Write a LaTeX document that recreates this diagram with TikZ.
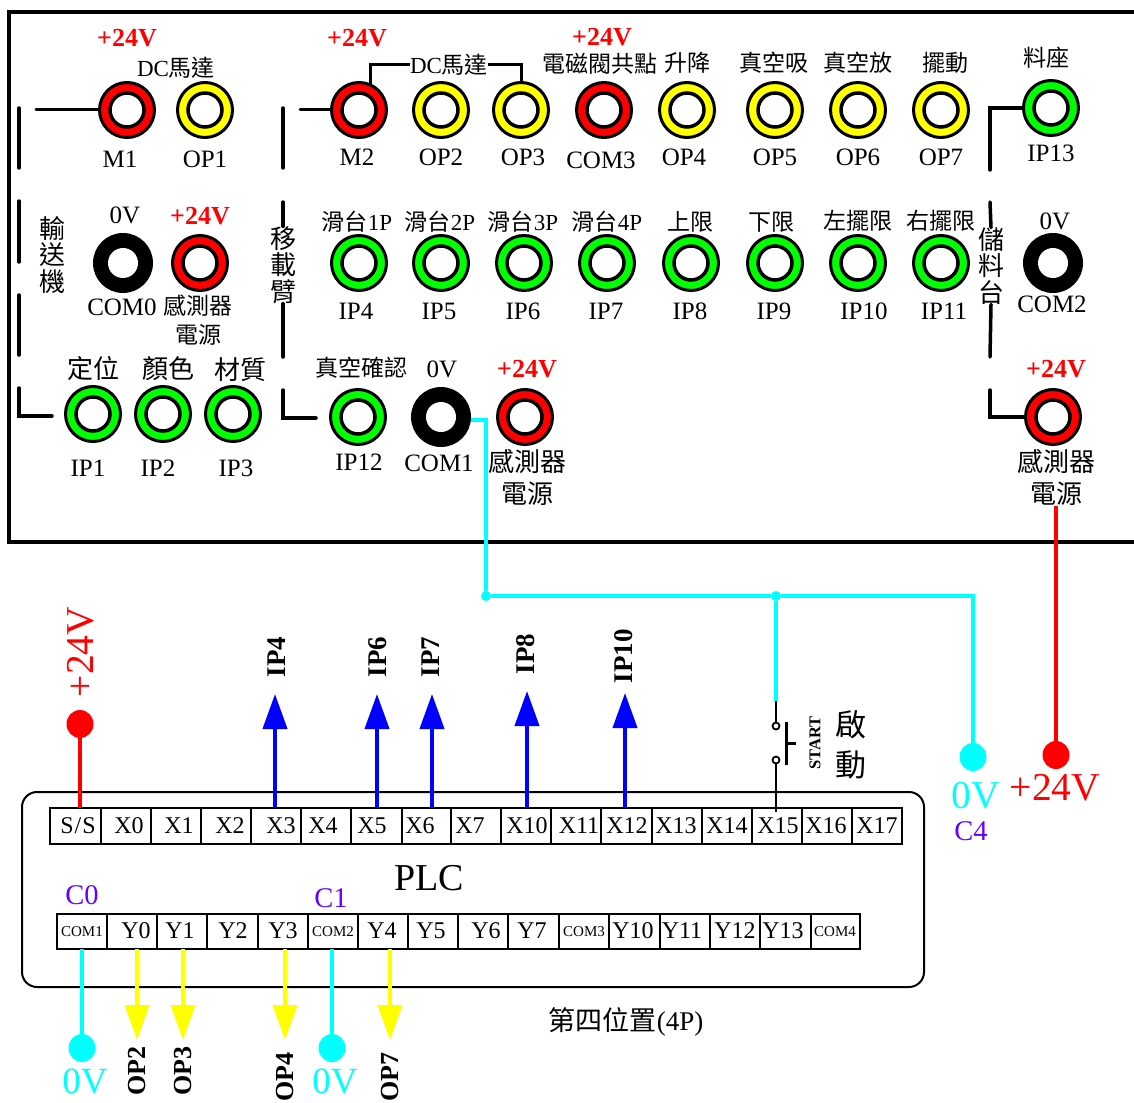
\documentclass[tikz,border=0pt]{standalone}
\usepackage{fontspec}
\setmainfont{Liberation Serif}
\newfontfamily\cjkfont{Noto Sans CJK TC}
\newcommand{\cj}[1]{{\cjkfont #1}}
\usetikzlibrary{shapes.geometric,arrows.meta}
\definecolor{pur}{RGB}{102,0,255}
\definecolor{cyn}{RGB}{0,255,255}
\definecolor{yel}{RGB}{255,255,0}
\definecolor{grn}{RGB}{0,255,0}
\definecolor{rd}{RGB}{255,0,0}
\definecolor{blu}{RGB}{0,0,255}
\tikzset{
  lab/.style={inner sep=0pt,outer sep=0pt,font=\fontsize{25}{25}\selectfont},
  cjlab/.style={inner sep=0pt,outer sep=0pt,font=\fontsize{23}{23}\selectfont},
  cjbig/.style={inner sep=0pt,outer sep=0pt,align=center,font=\fontsize{26}{26.5}\selectfont},
  redv/.style={inner sep=0pt,outer sep=0pt,text=rd,font=\fontsize{26}{26}\selectfont\bfseries},
  jackout/.style={ellipse,draw=black,line width=3pt,minimum width=55pt,minimum height=55pt,inner sep=0pt},
  jackblk/.style={ellipse,draw=black,line width=3pt,minimum width=57pt,minimum height=57pt,inner sep=0pt},
  jackin/.style={ellipse,draw=black,fill=white,line width=3.5pt,minimum width=34pt,minimum height=34pt,inner sep=0pt},
  jackhole/.style={ellipse,fill=white,minimum width=30pt,minimum height=30pt,inner sep=0pt},
  wire/.style={draw=black,line width=3.5pt,line cap=round},
  thinwire/.style={draw=black,line width=3pt,line cap=round},
  cellbox/.style={draw=black,line width=1.8pt,fill=white,inner sep=0pt,outer sep=0pt},
  celltext/.style={inner sep=0pt,font=\fontsize{24}{24}\selectfont},
  comtext/.style={inner sep=0pt,font=\fontsize{15}{15}\selectfont},
  bluearrow/.style={draw=blu,line width=4pt,-{Triangle[width=24pt,length=35pt]},blu},
  yelarrow/.style={draw=yel,line width=4pt,-{Triangle[width=24pt,length=35pt]},yel},
  cyanwire/.style={draw=cyn,line width=4pt},
  redwire/.style={draw=rd,line width=4pt},
  enddot/.style={ellipse,minimum width=27pt,minimum height=28pt,inner sep=0pt},
  junc/.style={circle,fill=cyn,minimum size=10pt,inner sep=0pt},
  rotlab/.style={inner sep=0pt,rotate=90,font=\fontsize{27}{27}\selectfont\bfseries},
  rotlabb/.style={inner sep=0pt,rotate=90,font=\fontsize{26}{26}\selectfont\bfseries},
  bigv/.style={inner sep=0pt,font=\fontsize{39.5}{39.5}\selectfont},
  purlab/.style={inner sep=0pt,text=pur,font=\fontsize{28.5}{28.5}\selectfont},
}
\newcommand{\jack}[4]{\node[jackout,fill=#4] (#1) at (#2,#3) {};\node[jackin] (#1i) at (#1) {};}
\newcommand{\bjack}[3]{\node[jackblk,fill=black] (#1) at (#2,#3) {};\node[jackhole] (#1i) at (#1) {};}
\newcommand{\cell}[5]{\node[cellbox,minimum width=#3pt-#2pt,minimum height=#5pt-#4pt,anchor=north west] (#1) at (#2,#4) {};}
\begin{document}
\begin{tikzpicture}[x=1pt,y=-1pt]
\useasboundingbox (0,0) rectangle (1134,1102);
% frame
\draw[line width=4pt] (1134,12) -- (9,12) -- (9,542) -- (1134,542);
% jacks row 1
\jack{M1}{127}{110}{rd}
\jack{OP1}{205}{110}{yel}
\jack{M2}{359}{110}{rd}
\jack{OP2}{441}{110}{yel}
\jack{OP3}{521}{110}{yel}
\jack{COM3}{604}{110}{rd}
\jack{OP4}{687}{110}{yel}
\jack{OP5}{775}{110}{yel}
\jack{OP6}{858}{110}{yel}
\jack{OP7}{941}{110}{yel}
\jack{IP13}{1051}{108}{grn}
% row 2
\bjack{COM0}{123}{263}
\jack{S0}{200}{263}{rd}
\jack{IP4}{359}{263}{grn}
\jack{IP5}{441}{263}{grn}
\jack{IP6}{524}{263}{grn}
\jack{IP7}{607}{263}{grn}
\jack{IP8}{691}{263}{grn}
\jack{IP9}{775}{263}{grn}
\jack{IP10}{858}{263}{grn}
\jack{IP11}{941}{263}{grn}
\bjack{COM2}{1053}{263}
% row 3
\jack{IP1}{93}{414}{grn}
\jack{IP2}{163}{414}{grn}
\jack{IP3}{233}{414}{grn}
\jack{IP12}{358}{417}{grn}
\bjack{COM1}{441}{417}
\jack{S1}{525}{417}{rd}
\jack{S2}{1053}{417}{rd}
% +24V
\foreach \x/\y [count=\i] in {127/38,357/38,602/37,200/216,527/369,1056/369}
  \node[redv] (pv\i) at (\x,\y) {+24V};
% latin labels
\foreach \x/\y/\t [count=\i] in {120/159/M1,205/159/OP1,357/157/M2,441/157/OP2,523/157/OP3,601/160/COM3,684/157/OP4,775/157/OP5,858/157/OP6,941/157/OP7,1051/153/IP13,
  125/215/0V,122/307/COM0,1055/221/0V,1052/304/COM2,
  356/311/IP4,439/311/IP5,523/311/IP6,606/311/IP7,690/311/IP8,774/311/IP9,864/311/IP10,944/311/IP11,
  88/468/IP1,158/468/IP2,236/468/IP3,442/369/0V,359/462/IP12,439/463/COM1}
  \node[lab] (la\i) at (\x,\y) {\t};
% cjk labels
\node[cjlab] (dc1) at (176,68) {DC\cj{馬達}};
\node[cjlab] (dc2) at (449,65) {DC\cj{馬達}};
\node[cjlab] (c1) at (600,64) {\cj{電磁閥共點}};
\node[cjlab] (c2) at (687,63) {\cj{升降}};
\node[cjlab] (c3) at (774,63) {\cj{真空吸}};
\node[cjlab] (c4) at (858,63) {\cj{真空放}};
\node[cjlab] (c5) at (945,63) {\cj{擺動}};
\node[cjlab] (c6) at (1046,58) {\cj{料座}};
\node[cjlab] (s0a) at (198,306) {\cj{感測器}};
\node[cjlab] (s0b) at (198,335) {\cj{電源}};
\node[cjlab] (f1) at (357,222) {\cj{滑台}1P};
\node[cjlab] (f2) at (440,222) {\cj{滑台}2P};
\node[cjlab] (f3) at (523,222) {\cj{滑台}3P};
\node[cjlab] (f4) at (607,222) {\cj{滑台}4P};
\node[cjlab] (f5) at (690,222) {\cj{上限}};
\node[cjlab] (f6) at (771,222) {\cj{下限}};
\node[cjlab] (f7) at (858,221) {\cj{左擺限}};
\node[cjlab] (f8) at (941,221) {\cj{右擺限}};
\node[cjbig] (g1) at (93,369) {\cj{定位}};
\node[cjbig] (g2) at (168,369) {\cj{顏色}};
\node[cjbig] (g3) at (240,370) {\cj{材質}};
\node[cjlab] (g4) at (361,368) {\cj{真空確認}};
\node[cjbig] (s1a) at (527,462) {\cj{感測器}};
\node[cjbig] (s1b) at (527,494) {\cj{電源}};
\node[cjbig] (s2a) at (1056,462) {\cj{感測器}};
\node[cjbig] (s2b) at (1056,494) {\cj{電源}};
\node[cjbig] (v1) at (52,255) {\cj{輸}\\\cj{送}\\\cj{機}};
\node[cjbig] (v2) at (283,265) {\cj{移}\\\cj{載}\\\cj{臂}};
\node[cjbig] (v3) at (991,266) {\cj{儲}\\\cj{料}\\\cj{台}};
% brackets
\coordinate (b1a) at (19,108); \coordinate (b1b) at (19,168);
\coordinate (b2a) at (19,201); \coordinate (b2b) at (19,262);
\coordinate (b3a) at (19,295); \coordinate (b3b) at (19,355);
\coordinate (b4a) at (19,388); \coordinate (b4b) at (19,416); \coordinate (b4c) at (52,416);
\coordinate (b5) at (36,110); \coordinate (b6) at (300,110);
\draw[wire] (b1a) -- (b1b); \draw[wire] (b2a) -- (b2b); \draw[wire] (b3a) -- (b3b);
\draw[wire] (b4a) -- (b4b) -- (b4c);
\draw[thinwire] (b5) -- (M1.west);
\draw[thinwire] (b6) -- (M2.west);
\coordinate (d1a) at (283,108); \coordinate (d1b) at (283,168);
\coordinate (d2a) at (283,202); \coordinate (d3b) at (283,357);
\coordinate (d4a) at (283,390); \coordinate (d4b) at (283,418); \coordinate (d4c) at (316,418);
\draw[wire] (d1a) -- (d1b);
\draw[wire] (d2a) -- (v2.north);
\draw[wire] (v2.south) -- (d3b);
\draw[wire] (d4a) -- (d4b) -- (d4c);
\draw[thinwire,line cap=butt] (M2.66) |- (dc2.west);
\draw[thinwire,line cap=butt] (dc2.east) -| (OP3.north);
\coordinate (e1) at (990,170); \coordinate (e2) at (990,202); \coordinate (e3) at (990,357);
\coordinate (e4) at (990,390); \coordinate (e5) at (990,417);
\draw[wire] (e1) |- (IP13.west);
\draw[wire] (e2) -- (v3.north);
\draw[wire] (v3.south) -- (e3);
\draw[wire] (e4) -- (e5) -- (S2.west);
% PLC
\node[draw=black,line width=2pt,rounded corners=15pt,minimum width=902pt,minimum height=195pt,inner sep=0pt,outer sep=0pt,anchor=north west] (plc) at (22,792) {};
\node[inner sep=0pt,font=\fontsize{38}{38}\selectfont] (plct) at (429,878) {PLC};
% X row
\cell{SS}{50}{101}{808}{844}
\cell{X0}{101}{151}{808}{844}
\cell{X1}{151}{201}{808}{844}
\cell{X2}{201}{251}{808}{844}
\cell{X3}{251}{301}{808}{844}
\cell{X4}{301}{351}{808}{844}
\cell{X5}{351}{402}{808}{844}
\cell{X6}{402}{451}{808}{844}
\cell{X7}{451}{501}{808}{844}
\cell{X10}{501}{551}{808}{844}
\cell{X11}{551}{601}{808}{844}
\cell{X12}{601}{652}{808}{844}
\cell{X13}{652}{702}{808}{844}
\cell{X14}{702}{752}{808}{844}
\cell{X15}{752}{802}{808}{844}
\cell{X16}{802}{852}{808}{844}
\cell{X17}{852}{902}{808}{844}
\node[celltext] (xts) at (78,826) {S\kern1pt/\kern1pt S};
\foreach \x/\t [count=\i] in {129/X0,179/X1,230/X2,281/X3,323/X4,372/X5,420/X6,470/X7,527/X10,579/X11,627/X12,676/X13,727/X14,778/X15,826/X16,877/X17}
  \node[celltext] (xt\i) at (\x,826) {\t};
% Y row
\cell{YC1}{57}{107}{914}{949}
\cell{Y0}{107}{157}{914}{949}
\cell{Y1}{157}{207}{914}{949}
\cell{Y2}{207}{258}{914}{949}
\cell{Y3}{258}{308}{914}{949}
\cell{YC2}{308}{358}{914}{949}
\cell{Y4}{358}{408}{914}{949}
\cell{Y5}{408}{458}{914}{949}
\cell{Y6}{458}{508}{914}{949}
\cell{Y7}{508}{559}{914}{949}
\cell{YC3}{559}{609}{914}{949}
\cell{Y10}{609}{660}{914}{949}
\cell{Y11}{660}{710}{914}{949}
\cell{Y12}{710}{760}{914}{949}
\cell{Y13}{760}{811}{914}{949}
\cell{YC4}{811}{860}{914}{949}
\foreach \x/\t [count=\i] in {136/Y0,180/Y1,233/Y2,283/Y3,382/Y4,431/Y5,486/Y6,532/Y7,633/Y10,682/Y11,735/Y12,783/Y13}
  \node[celltext] (yt\i) at (\x,931) {\t};
\foreach \x/\t [count=\i] in {82/COM1,333/COM2,584/COM3,835/COM4}
  \node[comtext] (yc\i) at (\x,932) {\t};
\node[purlab] (c0l) at (82,895) {C0};
\node[purlab] (c1l) at (331,898) {C1};
% blue arrows
\coordinate (t3) at (275,694); \coordinate (t5) at (377,694); \coordinate (t6) at (432,694);
\coordinate (t10) at (527,691); \coordinate (t12) at (625,693);
\draw[bluearrow] (t3 |- X3.north) -- (t3);
\draw[bluearrow] (t5 |- X5.north) -- (t5);
\draw[bluearrow] (t6 |- X6.north) -- (t6);
\draw[bluearrow] (t10 |- X10.north) -- (t10);
\draw[bluearrow] (t12 |- X12.north) -- (t12);
\node[rotlab] (r1) at (277,657) {IP4};
\node[rotlab] (r2) at (378,657) {IP6};
\node[rotlab] (r3) at (431,657) {IP7};
\node[rotlab] (r4) at (526,654) {IP8};
\node[rotlab] (r5) at (624,656) {IP10};
% yellow arrows
\coordinate (u0) at (137,1040); \coordinate (u1) at (183,1040); \coordinate (u3) at (285,1040); \coordinate (u4) at (390,1040);
\draw[yelarrow] (u0 |- Y0.south) -- (u0);
\draw[yelarrow] (u1 |- Y1.south) -- (u1);
\draw[yelarrow] (u3 |- Y3.south) -- (u3);
\draw[yelarrow] (u4 |- Y4.south) -- (u4);
\node[rotlabb] (q1) at (137,1071) {OP2};
\node[rotlabb] (q2) at (183,1071) {OP3};
\node[rotlabb] (q3) at (285,1077) {OP4};
\node[rotlabb] (q4) at (390,1077) {OP7};
% cyan bottom
\node[enddot,fill=cyn] (cd0) at (82,1048) {};
\node[enddot,fill=cyn] (cd1) at (332,1048) {};
\draw[cyanwire] (cd0 |- YC1.south) -- (cd0);
\draw[cyanwire] (cd1 |- YC2.south) -- (cd1);
\node[inner sep=0pt,font=\fontsize{37}{37}\selectfont,text=cyn] (v0a) at (85,1081) {0V};
\node[inner sep=0pt,font=\fontsize{37}{37}\selectfont,text=cyn] (v0b) at (335,1081) {0V};
% S/S
\node[enddot,fill=rd] (rd0) at (80,724) {};
\draw[redwire] (rd0) -- (rd0 |- SS.north);
\node[bigv,text=rd,rotate=90] (pv0) at (81,652) {+24V};
% top cyan
\node[junc] (j1) at (486,596) {};
\node[junc] (j2) at (776,596) {};
\node[enddot,fill=cyn] (cd2) at (973,757) {};
\draw[cyanwire] (COM1.-6) -| (j1);
\draw[cyanwire] (j1) -- (j2);
\draw[cyanwire] (j2) -| (cd2);
\node[bigv,text=cyn] (v0c) at (976,796) {0V};
\node[purlab] (c4l) at (971,831) {C4};
% right red
\node[enddot,fill=rd] (rd1) at (1056,755) {};
\draw[redwire] (s2b.south) -- (rd1);
\node[bigv,text=rd] (pv7) at (1055,788) {+24V};
% switch
\node[circle,draw=black,fill=white,line width=1.8pt,minimum size=7pt,inner sep=0pt] (sw1) at (776,726) {};
\node[circle,draw=black,fill=white,line width=1.8pt,minimum size=7pt,inner sep=0pt] (sw2) at (776,760) {};
\coordinate (sw0) at (776,701);
\draw[cyanwire] (j2) -- (sw0);
\draw[draw=black,line width=1.8pt] (sw0) -- (sw1);
\draw[draw=black,line width=1.8pt] (sw2) -- (sw2 |- X15.north) -- ++(0,4);
\coordinate (pb1) at (786,722); \coordinate (pb2) at (786,765); \coordinate (pb3) at (786,743); \coordinate (pb4) at (796,743);
\draw[line width=3pt] (pb1) -- (pb2);
\draw[line width=3pt] (pb3) -- (pb4);
\node[inner sep=0pt,rotate=90,font=\fontsize{16.5}{16.5}\selectfont\bfseries] (st) at (815,743) {START};
\node[inner sep=0pt,font=\fontsize{31}{31}\selectfont] (qi) at (851,725) {\cj{啟}};
\node[inner sep=0pt,font=\fontsize{31}{31}\selectfont] (dong) at (851,765) {\cj{動}};
\node[inner sep=0pt,font=\fontsize{27}{27}\selectfont] (pos) at (626,1022) {\cj{第四位置}(4P)};
\end{tikzpicture}
\end{document}
